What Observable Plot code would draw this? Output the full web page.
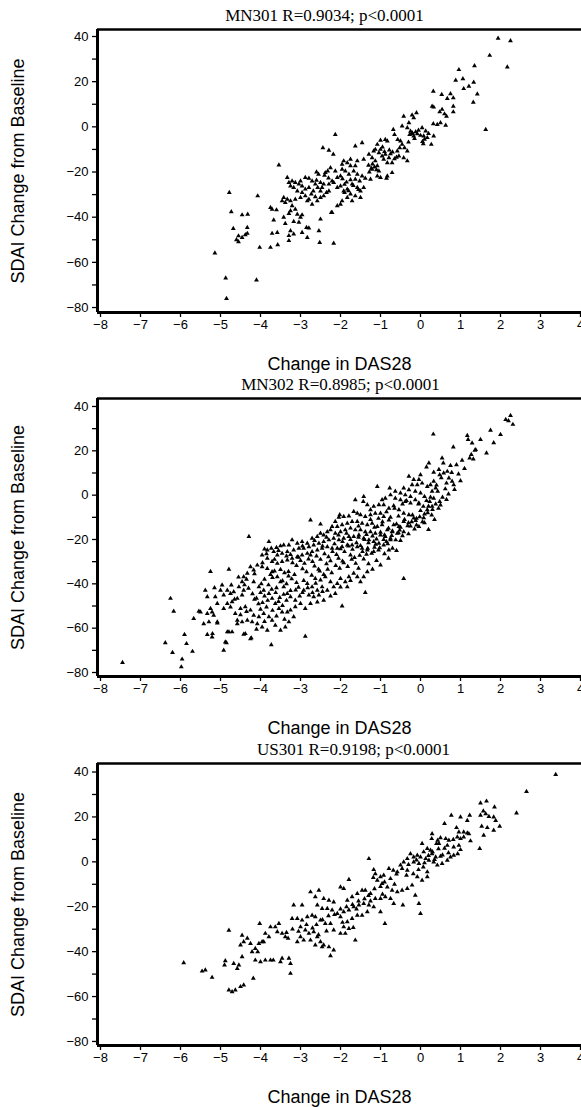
<!DOCTYPE html>
<html>
<head>
<meta charset="utf-8">
<script src="https://cdn.jsdelivr.net/npm/d3@7"></script>
<script src="https://cdn.jsdelivr.net/npm/@observablehq/plot@0.6"></script>
<style>
  html, body { margin: 0; padding: 0; background: #fff; }
  #chart { position: relative; width: 581px; height: 1107px; overflow: hidden; background: #fff; }
  #chart > div { position: absolute; left: 0; }
</style>
</head>
<body>
<div id="chart"></div>
<script>
// ---------- data ----------
const studies = ["MN301", "MN302", "US301"];
const rValues = ["0.9034", "0.8985", "0.9198"];
const pLabel = "p<0.0001";
const xLabel = "Change in DAS28";
const yLabel = "SDAI Change from Baseline";
const xTicks = [-8, -7, -6, -5, -4, -3, -2, -1, 0, 1, 2, 3, 4];
const yTicks = [-80, -60, -40, -20, 0, 20, 40];
const yMinorTicks = [-70, -50, -30, -10, 10, 30];

// [change in DAS28, SDAI change from baseline]
const mn301 = [
[0.32,15.7],[0.53,14.3],[0.75,14.6],[0.67,12.5],[0.82,12.8],[0.29,9.1],[0.33,8.7],[0.54,7.7],[0.48,6.6],[0.6,5.7],[0.65,4.7],[0.82,9.1],[0.82,6.6],
[-0.42,4.7],[-0.21,5.2],[-0.1,6.2],[-0.17,4.0],[-0.29,1.8],[-0.46,0.3],[-0.33,-0.4],[-0.21,-2.6],[-0.27,-3.4],[-0.17,-4.1],[-0.08,-3.1],[0.04,-0.4],[0.13,-1.9],[0.08,-4.1],[0.17,-4.8],[0.27,-7.8],[0.07,-7.5],[0.33,-4.1],[0.32,1.3],[0.42,1.0],[0.63,0.7],[0.5,1.8],
[-0.68,-1.2],[-0.57,-5.6],[-0.5,-6.3],[-0.46,-7.8],[-0.52,-9.3],[-0.58,-10.7],[-0.4,-9.3],[-0.33,-10.7],[-0.54,-12.9],[-0.33,-15.1],[-0.42,-13.7],[-0.65,-3.4],
[-1.0,-6.0],[-0.88,-5.6],[-0.83,-6.3],[-1.08,-7.8],[-1.13,-10.0],[-1.04,-11.5],[-0.96,-12.9],[-0.88,-12.2],[-0.79,-13.7],[-0.71,-15.9],[-0.83,-15.9],[-0.92,-14.4],[-1.0,-10.0],[-1.17,-10.7],[-1.29,-12.2],[-1.21,-13.7],[-1.13,-15.1],[-1.08,-17.3],[-1.21,-18.8],[-1.04,-19.6],[-1.08,-21.8],[-1.25,-23.2],[-1.23,-18.4],[-0.83,-21.8],[-1.0,-22.5],[-0.71,-20.3],[-0.85,-22.8],
[-1.63,-8.5],[-1.46,-7.1],[-1.42,-14.4],[-1.58,-15.1],[-1.63,-17.3],[-1.75,-14.4],[-1.83,-15.9],[-1.92,-15.1],[-1.96,-16.6],[-2.13,-3.4],[-2.44,-9.3],[-2.29,-10.4],[-2.18,-12.2],
[-1.75,-17.3],[-1.67,-19.6],[-1.58,-21.0],[-1.46,-21.8],[-1.38,-22.8],[-1.52,-24.0],[-1.63,-23.2],[-1.71,-25.4],[-1.58,-26.9],[-1.5,-28.4],[-1.42,-26.9],[-1.79,-21.0],[-1.88,-19.6],[-1.96,-18.8],[-2.0,-21.8],[-2.08,-22.5],[-2.13,-19.6],[-2.25,-18.1],[-2.32,-19.6],[-2.38,-20.3],[-2.21,-24.0],[-2.29,-25.4],[-2.17,-24.7],[-2.08,-26.9],[-2.0,-26.2],[-1.92,-28.4],[-1.83,-27.6],[-1.75,-29.8],[-1.63,-30.6],[-1.5,-31.3],[-1.71,-32.8],[-1.83,-31.3],[-1.96,-32.8],[-2.0,-34.3],[-2.08,-35.0],[-2.21,-38.0],[-1.9,-29.1],
[-2.88,-22.5],[-2.79,-22.8],[-2.71,-24.0],[-2.63,-25.4],[-2.57,-26.9],[-2.5,-28.4],[-2.46,-26.9],[-2.42,-25.4],[-2.5,-24.7],[-2.6,-23.7],[-2.68,-28.4],[-2.73,-29.8],[-2.79,-26.9],[-2.88,-27.6],[-2.96,-26.2],[-3.0,-24.0],[-3.04,-25.4],[-3.13,-24.7],[-3.21,-24.0],[-3.29,-24.7],[-3.33,-22.5],[-3.25,-26.2],[-3.17,-26.9],[-3.08,-28.4],[-2.96,-29.1],[-2.88,-30.6],[-2.79,-32.1],[-2.63,-31.0],[-2.5,-31.3],[-2.42,-30.6],[-2.35,-29.1],[-2.29,-28.4],[-2.58,-32.8],[-2.71,-34.3],[-2.83,-32.8],[-3.0,-31.3],[-3.13,-32.1],[-3.25,-32.8],[-3.33,-32.1],[-3.42,-31.3],[-3.46,-32.8],[-3.38,-33.5],[-3.21,-35.0],[-3.13,-36.5],[-3.08,-38.7],[-3.0,-40.1],[-3.25,-37.2],[-3.29,-38.4],[-3.42,-40.1],[-3.54,-16.9],[-4.07,-30.6],[-3.75,-35.7],[-3.71,-36.5],[-3.6,-36.8],[-3.67,-41.3],[-3.38,-42.8],[-3.17,-41.9],[-3.04,-42.3],[-2.96,-39.0],[-2.5,-40.9],[-2.23,-38.0],
[-3.71,-47.2],[-3.58,-46.8],[-3.25,-46.0],[-3.29,-48.2],[-3.17,-47.5],[-2.96,-46.8],[-2.83,-49.0],[-2.79,-44.8],[-2.54,-46.0],[-2.52,-51.2],[-2.17,-51.6],[-3.29,-50.4],[-3.57,-52.2],[-3.75,-53.4],[-4.02,-53.4],[-4.33,-44.6],[-4.38,-47.8],[-4.33,-47.2],[-4.46,-49.0],[-4.46,-39.0],[-4.32,-38.7],[-2.85,-44.6],
[-4.78,-29.1],[-5.14,-55.9],[-4.87,-67.0],[-4.85,-76.0],[-4.1,-67.8],[-4.73,-37.6],[-4.68,-45.0],[-4.6,-50.0],[-4.55,-50.9],[-4.55,-48.3],
[1.94,39.2],[2.25,38.1],[1.73,31.6],[2.17,26.5],[1.35,27.0],[0.96,25.3],[0.88,20.6],[1.06,21.3],[1.33,19.7],[1.08,16.9],[1.21,17.9],[1.42,14.5],[1.32,10.9],[1.63,-1.2],
[-0.25,-2.0],[-0.2,-3.0],[-0.12,-2.2],[-0.05,-1.5],[0.0,-3.8],[-0.15,-5.2],[0.1,-5.5],[0.2,-3.0],[-0.3,-6.8],[0.05,-6.5],
[-0.9,-11.0],[-0.75,-12.0],[-0.7,-11.2],[-0.6,-13.5],[-0.65,-14.2],[-0.78,-10.3],[-0.95,-9.0],
[-1.2,-16.5],[-1.15,-17.8],[-1.3,-17.0],[-1.1,-19.0],[-1.28,-20.0],
[-1.75,-23.5],[-1.85,-24.5],[-1.68,-26.0],[-1.9,-25.5],[-1.8,-28.3],[-1.55,-27.8],[-1.95,-23.0],
[-2.4,-21.5],[-2.3,-22.7],[-2.55,-21.0],[-2.6,-20.0]
];

const mn302 = [
[0.32,27.5],[1.17,26.9],[1.19,25.1],[1.29,23.5],[1.5,25.1],[1.65,19.0],[1.36,20.2],[1.27,18.3],[1.23,16.7],[1.32,16.3],[1.04,15.7],[0.82,21.7],[0.9,13.7],[0.75,13.3],[0.54,16.7],[0.57,14.5],[0.67,10.7],[0.58,10.0],[0.46,11.5],[0.48,9.2],[0.33,10.3],[0.21,14.5],[0.15,12.7],[0.0,9.2],[-0.04,7.0],[-0.17,7.0],[-0.29,8.5],[0.71,7.7],[0.79,6.2],[0.83,4.7],[0.65,5.4],[0.33,6.2],[0.25,4.7],[0.38,3.2],[0.43,1.7],[0.29,1.7],[0.17,3.9],[0.04,5.4],[-0.08,4.7],[-0.21,4.7],[-0.29,2.4],[-0.42,3.2],[-0.5,0.9],[-0.38,0.1],[-0.25,-0.6],[-0.13,1.7],[0.0,0.9],[0.1,-0.6],[0.23,-2.9],[0.33,-1.4],[0.48,-2.9],[0.29,-5.1],[0.17,-6.6],[0.07,-5.1],[-0.04,-3.6],[-0.13,-2.1],[-0.25,-3.6],[-0.38,-2.9],[-0.5,-2.1],[-0.63,-1.4],[-0.75,0.1],[-0.88,-1.4],[-0.96,-2.1],[-0.77,3.2],[-1.08,3.9],[-0.63,1.7],
[-1.63,-2.1],[-1.42,-0.6],[-1.43,-2.9],[-1.33,-4.4],[-1.25,-6.6],[-1.17,-5.1],[-1.04,-4.4],[-0.92,-4.4],[-0.79,-5.9],[-0.67,-4.8],[-0.54,-6.6],[-0.42,-8.2],[-0.29,-8.9],[-0.17,-10.4],[-0.04,-14.2],[-0.42,-11.9],[-0.54,-14.2],[-0.67,-13.4],[-0.79,-11.2],[-0.92,-9.7],[-1.0,-8.2],[-1.13,-8.2],[-1.25,-8.9],[-1.38,-9.7],[-1.5,-8.9],[-1.58,-8.2],[-1.67,-7.4],[-1.79,-9.4],[-1.92,-9.7],[-2.02,-8.9],[-2.04,-10.0],[-2.13,-11.9],[-2.21,-14.2],[-2.08,-14.2],[-1.96,-13.4],[-1.83,-12.7],[-1.71,-11.9],[-1.58,-11.9],[-1.46,-12.7],[-1.33,-13.4],[-1.21,-12.7],[-1.08,-14.2],[-0.96,-13.4],[-0.83,-15.7],[-0.71,-16.5],[-0.58,-17.2],[-0.75,-20.2],[-0.88,-18.7],[-1.0,-18.0],[-1.13,-17.2],[-1.25,-16.5],[-1.38,-16.5],[-1.5,-15.7],[-1.63,-15.7],[-1.75,-14.9],[-1.88,-15.7],[-2.0,-16.5],[-2.13,-17.2],[-2.25,-15.7],[-2.33,-16.5],[-2.42,-18.0],[-2.5,-17.2],[-2.58,-18.7],[-2.71,-19.5],[-2.75,-11.2],[-2.5,-13.1],[-2.83,-21.7],[-2.96,-21.0],[-3.08,-21.7],[-3.21,-20.2],[-3.29,-22.5],[-3.42,-22.5],[-3.5,-22.9],[-3.6,-23.6],[-3.73,-24.0],[-3.83,-24.8],[-3.9,-24.3],[-4.29,-18.7],[-3.79,-21.0],[-3.67,-25.5],[-3.58,-27.0],[-3.46,-26.3],[-3.33,-25.5],[-3.17,-24.8],[-3.04,-24.0],[-2.92,-24.0],[-2.79,-23.3],[-2.67,-22.5],[-2.54,-21.7],[-2.42,-21.0],[-2.29,-20.2],[-2.17,-19.5],[-2.04,-20.2],[-1.92,-19.5],[-1.79,-18.7],[-1.67,-18.7],[-1.54,-18.0],[-1.42,-19.5],[-1.29,-20.2],[-1.17,-21.0],[-1.04,-21.7],[-0.92,-22.5],[-0.79,-24.8],[-1.17,-25.5],[-1.33,-24.8],[-1.46,-24.0],[-1.58,-23.3],[-1.71,-22.5],[-1.83,-22.5],[-1.96,-23.3],[-2.08,-24.0],[-2.21,-24.0],[-2.33,-23.3],[-2.46,-24.0],[-2.58,-24.8],[-2.71,-25.5],[-2.83,-26.3],[-2.96,-27.0],[-3.08,-27.8],[-3.21,-28.5],[-3.33,-29.3],[-3.46,-30.0],[-3.58,-30.8],[-3.71,-30.0],[-3.83,-28.5],[-3.96,-27.0],
[-0.42,-37.6],[-1.38,-43.9],[-1.96,-50.0],[-2.88,-63.7],[-3.73,-67.5],
[-1.58,-36.8],[-1.5,-39.1],[-1.42,-36.8],[-1.33,-34.6],[-1.67,-35.3],[-1.79,-36.8],[-1.83,-41.4],[-1.88,-39.1],[-2.0,-37.6],[-2.08,-39.9],[-2.17,-41.4],[-2.13,-44.4],[-2.25,-39.1],[-2.38,-36.8],[-2.5,-38.3],[-2.63,-37.6],[-2.46,-41.4],[-2.33,-42.9],[-2.58,-42.9],[-2.71,-41.4],[-2.83,-39.9],[-2.92,-42.9],[-2.79,-45.1],[-2.67,-45.9],[-2.54,-45.1],[-2.42,-47.4],[-2.58,-48.2],[-2.75,-48.9],[-2.88,-51.2],[-3.0,-48.9],[-3.13,-47.4],[-3.25,-45.9],[-3.33,-44.4],[-3.42,-41.4],[-3.5,-39.1],[-3.58,-36.8],[-3.71,-34.6],[-3.83,-33.1],[-3.96,-32.3],[-4.08,-31.6],[-4.17,-33.8],[-4.25,-32.3],[-4.33,-35.3],[-4.42,-36.8],[-4.46,-39.1],[-4.54,-41.4],[-4.67,-43.6],[-4.75,-44.4],[-4.83,-42.9],[-4.92,-45.1],[-5.0,-42.9],[-5.13,-45.9],[-5.25,-34.5],[-4.79,-33.5],[-5.38,-42.9],[-5.33,-45.9],[-4.17,-39.1],[-4.04,-41.4],[-3.92,-42.9],[-3.79,-44.4],[-3.71,-46.6],[-3.63,-48.9],[-3.54,-51.2],[-3.46,-52.7],[-3.33,-52.7],[-3.25,-51.9],[-3.13,-50.4],[-3.17,-54.9],[-3.29,-57.2],[-3.38,-59.5],[-3.5,-61.0],[-3.63,-58.7],[-3.71,-56.5],[-3.79,-54.9],[-3.92,-53.4],[-4.04,-54.9],[-4.17,-54.2],[-4.25,-51.9],[-4.38,-50.4],[-4.5,-51.2],[-4.63,-53.4],[-4.58,-58.0],[-4.46,-57.2],[-4.33,-56.5],[-4.21,-57.2],[-4.08,-58.0],[-3.96,-59.5],[-3.83,-61.0],[-4.71,-61.7],[-4.83,-61.7],[-4.42,-62.8],[-4.25,-64.8],[-4.88,-66.3],[-4.92,-70.0],[-5.21,-64.0],[-5.08,-57.7],[-5.29,-57.2],[-5.42,-58.0],[-5.21,-52.7],[-5.5,-52.7],
[-5.15,-41.8],[-4.96,-40.6],[-4.73,-40.6],[-4.42,-42.9],[-4.46,-45.1],[-4.58,-46.6],[-4.71,-48.1],[-4.83,-48.9],[-4.92,-51.2],[-5.08,-48.9],[-5.25,-51.2],[-5.33,-53.4],[-5.17,-54.2],[-5.54,-52.4],[-5.67,-55.7],[-5.08,-57.2],[-4.79,-61.7],[-4.38,-62.5],[-4.23,-64.4],[-4.58,-56.5],[-4.85,-66.6],[-5.33,-62.9],[-5.2,-62.5],[-6.25,-46.6],[-6.17,-52.4],[-6.38,-66.6],[-5.9,-62.9],[-5.85,-67.0],
[-7.45,-75.5],[-5.98,-77.5],[-5.96,-74.0],[-6.2,-71.0],[-5.7,-70.5],
[2.25,35.9],[2.13,34.1],[2.31,31.9],[2.2,33.5],[1.75,29.2],[2.0,27.3],[1.83,23.6],[1.38,20.5],
[-3.2,-30.5],[-3.1,-31.8],[-3.0,-29.5],[-2.9,-30.8],[-2.8,-28.8],[-2.7,-30.0],[-2.6,-27.5],[-2.5,-29.0],[-2.4,-26.5],[-2.3,-27.8],[-2.2,-25.5],[-2.1,-26.8],[-2.0,-24.2],[-1.9,-25.5],[-1.8,-23.0],[-1.7,-24.5],[-1.6,-21.5],[-1.5,-22.8],[-1.4,-20.0],[-1.3,-21.5],[-1.2,-18.5],[-1.1,-19.8],[-1.0,-16.8],[-0.9,-18.0],[-0.8,-15.0],[-0.7,-16.2],[-0.6,-13.0],[-0.5,-14.5],[-0.4,-11.0],[-0.3,-12.5],[-0.2,-9.0],[-0.1,-10.5],[0.0,-7.0],[0.1,-8.5],[0.2,-5.0],[0.3,-6.5],
[-3.3,-34.5],[-3.15,-35.8],[-2.95,-33.2],[-2.85,-34.6],[-2.65,-32.0],[-2.55,-33.5],[-2.35,-31.0],[-2.25,-29.6],[-2.05,-28.5],[-1.95,-29.8],[-1.75,-27.0],[-1.65,-28.2],[-1.45,-25.5],[-1.35,-26.7],[-1.15,-23.5],[-1.05,-24.8],[-0.85,-21.0],[-0.75,-19.5],[-0.55,-17.0],[-0.45,-18.3],[-0.25,-14.0],[-0.15,-15.3],[0.05,-12.0],[0.15,-2.5],[0.25,-1.0],[-0.05,-4.0],
[-3.9,-38.0],[-3.8,-40.5],[-3.7,-37.2],[-3.6,-41.8],[-3.45,-38.6],[-3.35,-40.0],[-3.25,-43.0],[-3.1,-39.5],[-3.05,-41.6],[-2.95,-44.0],[-4.0,-44.0],[-4.1,-46.5],[-3.95,-48.5],[-3.85,-50.5],[-3.7,-52.0],[-3.55,-48.0],[-3.45,-49.8],[-3.3,-36.5],[-3.4,-35.0],[-3.5,-33.6],[-3.65,-34.2],[-3.75,-35.8],
[-4.4,-40.5],[-4.3,-42.0],[-4.2,-44.5],[-4.15,-47.0],[-4.05,-49.0],[-3.98,-40.0],[-3.9,-45.5],[-3.82,-47.5],[-3.72,-42.5],[-3.62,-44.0],[-3.52,-46.2],[-3.42,-44.8],[-3.35,-47.5],[-3.22,-37.8],[-3.12,-42.8],[-3.02,-45.5],[-2.92,-38.5],[-2.82,-41.8],[-2.72,-36.2],[-2.62,-39.8],[-2.52,-34.2],[-2.42,-35.8],[-2.32,-33.5],[-2.22,-35.0],[-2.12,-31.8],[-2.02,-33.0],[-1.92,-30.5],[-1.82,-32.2],[-1.72,-29.0],[-1.62,-30.8],[-1.52,-27.2],[-1.42,-28.8],[-1.32,-24.0],[-1.22,-26.2],[-1.12,-22.2],[-1.02,-23.8],[-0.92,-20.0],[-0.82,-22.0],[-0.72,-18.2],[-0.62,-20.2],[-0.52,-15.8],[-0.42,-16.5],[-0.32,-13.8],[-0.22,-12.0],[-0.12,-11.5],[-0.02,-9.8],[0.08,-10.2],[0.18,-8.0],[0.28,-9.0],[0.38,-4.0],[0.45,-6.0],[0.55,-1.0],[0.62,2.8],[0.7,0.5],[0.4,4.5],[0.52,7.8],
[-3.85,-26.5],[-3.55,-25.0],[-3.25,-26.8],[-2.95,-23.0],[-2.65,-20.5],[-2.35,-19.0],[-2.05,-18.0],[-1.85,-17.2],[-1.55,-14.0],[-1.25,-11.0],[-1.05,-10.5],[-0.85,-7.5],[-0.65,-6.0],[-0.45,-4.0],[-0.35,-2.5],[-0.55,-9.5],[-0.75,-10.0],[-0.95,-12.0],[-1.15,-14.5],[-1.35,-17.8],[-1.55,-19.0],[-1.75,-20.0],[-1.95,-21.0],[-2.15,-22.0],[-2.45,-23.0],[-2.75,-27.0],[-3.05,-28.0],[-3.35,-27.5],[-3.65,-29.0],[-3.95,-30.5],[-4.15,-35.5],[-4.35,-38.0],[-4.55,-37.0],[-4.65,-47.0],[-4.75,-50.5],[-4.5,-54.0],[-4.35,-52.5],[-4.0,-51.5],[-3.6,-54.5],[-3.4,-56.0],[-3.9,-57.0],[-4.1,-60.5],[-2.7,-44.0],[-2.45,-43.5],[-2.25,-45.5],[-2.0,-41.5],[-1.75,-38.5],[-1.55,-33.0],[-1.3,-31.0],[-1.1,-29.5],[-0.9,-26.5],[-0.7,-24.0],[-0.5,-20.5],[-0.3,-17.5],[-0.1,-13.5],[0.1,-12.5],[0.2,-15.5],[0.35,-11.0],[0.5,-4.5],[0.65,-2.0],[0.85,2.5],[0.95,9.5],[1.1,12.0],[1.0,6.5],[0.78,10.2],[-1.2,-33.5],[-1.0,-31.5],[-0.8,-28.5],[-0.6,-25.0]
];

const us301 = [
[1.5,26.2],[1.65,27.0],[1.85,24.4],[1.57,22.6],[1.63,21.4],[1.5,20.7],[1.71,20.2],[1.83,19.9],[1.88,18.4],[2.4,21.7],[1.53,15.8],[1.67,15.2],[1.83,14.0],[1.98,15.8],[1.58,11.8],[1.48,5.9],[1.23,20.7],[1.0,19.9],[1.17,18.4],[0.77,20.7],[0.6,17.0],[0.9,15.2],[0.96,13.3],[1.08,13.3],[1.17,12.8],[1.21,12.5],[1.25,9.3],[1.08,11.0],[1.0,10.3],[0.92,11.0],[0.82,9.9],[0.71,9.6],[0.63,10.3],[0.5,10.7],[0.43,9.6],[0.4,8.1],[0.29,12.5],[0.28,10.3],[0.46,8.1],[0.67,7.3],[0.83,6.6],[0.96,7.3],[1.0,5.4],[0.93,3.6],[0.83,2.9],[0.75,2.1],[0.67,0.7],[0.54,-0.8],[0.42,-1.5],[0.38,2.1],[0.29,3.6],[0.25,5.1],[0.17,5.9],[0.08,4.4],[0.04,8.1],[0.0,2.1],[0.13,1.4],[0.21,0.7],[0.33,-0.1],[-0.08,2.9],[-0.17,2.1],[-0.25,3.6],[-0.33,1.4],[-0.42,-0.1],[-0.5,-1.5],[-0.17,-0.1],[-0.04,-0.8],[0.07,-2.3],[0.17,-4.5],[0.17,-6.7],[0.04,-8.2],[-0.08,-6.7],[-0.18,-5.3],[-0.33,-3.8],[-0.46,-3.0],[-0.58,-4.5],[-0.68,-3.8],[-0.79,-3.0],[-0.92,-6.0],[-1.0,-6.7],[-1.13,-5.3],[-1.17,-3.5],[-1.18,-7.0],[-1.08,-8.2],[-0.96,-9.7],[-0.83,-11.2],[-0.71,-12.7],[-0.58,-13.4],[-0.46,-12.7],[-0.33,-11.9],[-0.21,-10.4],[-0.13,-14.9],[-0.04,-18.6],[0.0,-23.0],[-0.44,-19.3],[-0.67,-18.6],[-0.75,-16.4],[-0.88,-15.6],[-1.0,-16.4],[-1.13,-16.4],[-1.25,-14.1],[-1.38,-12.7],[-1.29,1.4],[-1.46,-12.7],[-1.58,-14.1],[-1.71,-15.6],[-1.83,-17.1],[-1.92,-11.9],[-2.0,-11.2],[-1.79,-7.9],[-2.17,-17.9],[-2.29,-17.1],[-2.42,-16.4],[-2.54,-12.7],[-2.75,-13.4],[-2.63,-15.6],[-2.58,-19.3],[-2.46,-20.8],[-2.33,-20.8],[-2.21,-21.5],[-2.08,-23.0],[-2.0,-24.5],[-1.92,-22.3],[-1.79,-21.5],[-1.67,-20.1],[-1.54,-19.3],[-1.42,-18.6],[-1.29,-19.3],[-1.17,-20.1],[-1.0,-22.3],[-0.89,-27.5],[-1.33,-22.3],[-1.46,-23.8],[-1.58,-23.8],[-1.71,-25.3],[-1.83,-26.7],[-1.92,-29.0],[-1.79,-29.7],[-1.68,-29.3],[-1.63,-34.9],[-1.88,-31.9],[-2.0,-31.9],[-2.17,-30.4],[-2.25,-27.5],[-2.38,-27.5],[-2.5,-26.0],[-2.63,-24.5],[-2.71,-23.8],[-2.83,-24.5],[-2.96,-26.0],[-3.08,-25.3],[-3.21,-25.3],[-3.0,-29.0],[-2.88,-30.4],[-2.79,-31.9],[-2.67,-31.2],[-2.58,-33.4],[-2.5,-35.6],[-2.42,-37.1],[-2.29,-37.9],[-2.17,-39.3],[-2.25,-41.9],[-2.46,-37.9],[-2.63,-37.1],[-2.75,-34.9],[-2.92,-34.9],[-3.0,-33.4],[-3.08,-35.6],[-3.17,-19.3],[-2.96,-19.3],[-3.31,-34.1],[-3.38,-33.4],[-3.46,-31.9],[-3.58,-31.2],[-3.63,-29.0],[-3.54,-27.5],[-3.75,-29.0],[-3.79,-33.4],[-3.88,-31.9],[-3.96,-35.6],[-4.04,-36.4],[-4.13,-38.6],[-4.21,-40.1],[-4.25,-36.4],[-4.33,-34.1],[-4.42,-35.6],[-4.46,-32.7],[-4.5,-37.1],[-4.79,-30.5],[-4.02,-27.5],[-3.92,-35.6],[-4.07,-40.1],[-4.13,-43.8],[-4.0,-44.5],[-3.88,-43.8],[-3.75,-43.8],[-3.68,-43.8],[-3.5,-44.5],[-3.29,-43.0],[-3.25,-45.3],[-3.25,-49.7],[-3.46,-43.0],[-4.18,-51.9],[-4.46,-42.3],[-4.54,-46.0],[-4.67,-45.3],[-4.88,-44.1],[-4.9,-46.0],[-4.71,-57.9],[-4.63,-57.1],[-4.5,-55.6],[-4.42,-54.9],[-4.79,-57.1],[-5.21,-51.5],[-5.38,-48.2],[-5.46,-48.7],[-4.58,-47.5],
[3.38,38.9],[2.65,31.3],[-5.92,-45.0],
[0.3,4.5],[0.45,5.8],[0.55,3.0],[0.6,6.0],[0.35,1.0],[0.5,2.5],[0.2,2.8],[0.1,-0.5],[-0.1,0.8],[-0.3,-1.2],[-0.6,-5.5],[-0.75,-7.5],[-0.9,-9.0],[-1.0,-11.0],[-1.15,-12.0],[-1.3,-15.0],[-1.4,-16.5],[-1.55,-17.5],[-1.7,-19.0],[-1.85,-20.0],[-2.0,-21.0],[-2.15,-23.5],[-2.3,-24.0],[-2.45,-25.8],[-2.6,-28.0],[-2.7,-29.5],[-2.85,-28.0],[-3.05,-31.0],[-3.2,-30.0],[-3.35,-31.5],[-2.35,-30.8],[-2.55,-32.5],[-1.95,-27.0],[-1.6,-21.0],[-1.25,-17.5],[-0.95,-14.5],[-0.65,-10.0],[-0.35,-6.0],[-0.05,-3.5],[0.7,4.0]
];

const series = [mn301, mn302, us301];

// ---------- layout (page geometry only) ----------
const xDomain = [-8.075, 4.025];
const panels = [
  {top: 0,   height: 373, marginTop: 29, marginBottom: 61, yDomain: [-82.2, 43.1], titleDx: -15},
  {top: 373, height: 365, marginTop: 25, marginBottom: 62, yDomain: [-81.8, 43.6], titleDx: 1},
  {top: 738, height: 369, marginTop: 25, marginBottom: 62, yDomain: [-81.8, 43.8], titleDx: 14}
];

const chart = document.getElementById("chart");
const sans = "Liberation Sans, Arial, Helvetica, sans-serif";
const serif = "Liberation Serif, 'Times New Roman', Times, serif";

panels.forEach((p, i) => {
  const title = `${studies[i]} R=${rValues[i]}; ${pLabel}`;
  const svg = Plot.plot({
    width: 581,
    height: p.height,
    marginLeft: 97,
    marginRight: 0,
    marginTop: p.marginTop,
    marginBottom: p.marginBottom,
    style: {fontFamily: sans, fontSize: "13px", background: "#fff", color: "#000", overflow: "visible"},
    x: {domain: xDomain},
    y: {domain: p.yDomain},
    marks: [
      Plot.dot(series[i], {x: d => d[0], y: d => d[1], symbol: "triangle", r: 1.8, fill: "#000", stroke: "none"}),
      Plot.axisY(yTicks, {tickSize: 5, tickPadding: 4, fontSize: 13, strokeWidth: 1.3, label: null}),
      Plot.axisY(yMinorTicks, {tickSize: 5, tickFormat: () => "", strokeWidth: 1.3, label: null}),
      Plot.axisX(xTicks, {tickSize: 5, tickPadding: 2, fontSize: 13, strokeWidth: 1.3, label: null}),
      Plot.ruleX([xDomain[0]], {strokeWidth: 3, stroke: "#000"}),
      Plot.ruleY([p.yDomain[0]], {strokeWidth: 3, stroke: "#000"}),
      Plot.ruleY([p.yDomain[1]], {strokeWidth: 2.5, stroke: "#000"}),
      Plot.text([title], {text: d => d, frameAnchor: "top", lineAnchor: "bottom", dy: -9, dx: p.titleDx, fontFamily: serif, fontSize: 17, fill: "#000"}),
      Plot.text([xLabel], {text: d => d, frameAnchor: "bottom", lineAnchor: "middle", dy: 52, fontSize: 18, fill: "#000"}),
      Plot.text([yLabel], {text: d => d, frameAnchor: "left", textAnchor: "middle", lineAnchor: "middle", dx: -79, rotate: -90, fontSize: 18, fill: "#000"})
    ]
  });
  const holder = document.createElement("div");
  holder.style.top = p.top + "px";
  holder.appendChild(svg);
  chart.appendChild(holder);
});
</script>
</body>
</html>
